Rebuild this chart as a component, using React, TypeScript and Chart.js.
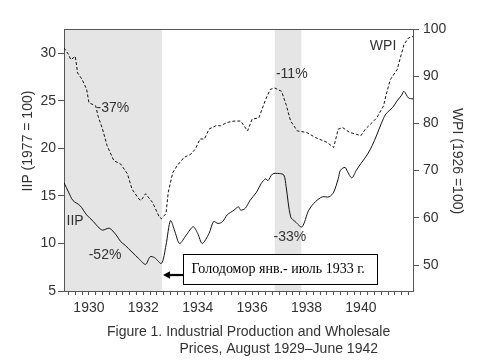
import React, { useEffect, useRef } from 'react';
import { Chart, registerables } from 'chart.js';

Chart.register(...registerables);

// Months counted from August 1929 (0) to June 1942 (154)
const iipMonths = [0,2,4,7,10,13,15,17,20,23,25,27,30,33,36,38,40,43,45,47,49,51,54,57,59,61,64,66,68,70,72,75,77,78,80,82,85,87,89,90,92,95,97,98,100,102,105,108,111,114,117,119,121,122,124,125,127,129,131,134,136,138,140,142,145,147,149,150,152,154];
const iipValues = [16.4,15.4,14.5,14.0,13.0,12.3,11.75,11.4,11.6,10.9,10.2,9.8,9.1,8.4,7.8,8.6,8.5,7.9,9.8,12.4,11.2,10.0,10.9,11.75,11.05,10.0,11.05,12.3,12.1,12.3,13.0,13.5,13.85,13.5,13.7,14.5,15.4,16.3,16.8,16.6,17.3,17.35,17.2,16.0,12.8,12.3,11.75,13.5,14.4,14.9,14.9,15.4,16.8,17.7,18.0,17.6,16.9,17.7,18.4,19.4,20.3,21.4,22.6,23.6,24.3,25.0,25.6,26.0,25.3,25.2];

const wpiMonths = [0,2,3,5,6,8,10,11,14,15,17,19,22,25,28,30,33,34,36,39,40,42,43,45,46,48,50,53,56,58,60,62,64,67,69,72,75,78,81,83,86,89,91,93,96,98,100,103,107,111,116,119,121,123,126,129,131,133,136,138,141,142,144,147,149,150,152,154];
const wpiValues = [96.0,94.6,93.5,94.2,90.7,89.3,87.2,84.4,83.7,81.6,78.8,75.3,72.1,71.4,69.3,66.1,64.0,63.7,65.1,63.3,62.3,60.2,59.8,60.9,65.4,69.6,71.1,72.8,73.5,74.6,76.7,76.7,78.8,79.5,79.5,80.2,80.5,80.5,78.4,80.9,81.2,85.1,87.2,87.5,86.8,84.0,80.5,78.4,78.1,77.0,76.0,74.9,78.8,79.1,78.1,77.7,77.4,78.8,80.2,81.2,83.7,85.8,89.3,91.4,94.9,96.7,98.1,98.4];

const xTickYears = [1930, 1932, 1934, 1936, 1938, 1940];
const iipTicks = [5, 10, 15, 20, 25, 30];
const wpiTicks = [50, 60, 70, 80, 90, 100];
const shadedStarts = [0, 93];
const shadedEnds = [43.2, 104.7];

const annTexts = ['-37%', '-52%', 'IIP', '-11%', '-33%', 'WPI'];
const annMonths = [21.6, 18.1, 4.9, 100.5, 99.7, 140.8];
const annIip = [24.2, 8.8, 12.3, 27.8, 10.7, 30.7];

const boxText = 'Голодомор янв.- июль 1933 г.';
const captionLine1 = 'Figure 1. Industrial Production and Wholesale';
const captionLine2 = 'Prices, August 1929\u2013June 1942';
const leftTitle = 'IIP (1977 = 100)';
const rightTitle = 'WPI (1926 =100)';

const monthOfJuly = (y: number) => (y - 1929) * 12 - 1;
const quarterTicks: number[] = [];
for (let m = 2; m <= 154; m += 3) quarterTicks.push(m);

const SANS = "'Liberation Sans', Arial, sans-serif";
const TEXT = '#333';
const AXIS = '#555';

const decor = {
  id: 'decor',
  beforeDraw(chart: any) {
    const { ctx, chartArea, scales } = chart;
    const x = scales.x;
    ctx.save();
    ctx.fillStyle = '#e5e5e5';
    shadedStarts.forEach((s, k) => {
      const x1 = x.getPixelForValue(s);
      const x2 = x.getPixelForValue(shadedEnds[k]);
      ctx.fillRect(x1, chartArea.top, x2 - x1, chartArea.bottom - chartArea.top);
    });
    ctx.restore();
  },
  afterDraw(chart: any) {
    const { ctx, chartArea, scales } = chart;
    const x = scales.x;
    const y = scales.y;
    ctx.save();
    // frame
    ctx.strokeStyle = AXIS;
    ctx.lineWidth = 1;
    ctx.beginPath();
    ctx.moveTo(chartArea.left, chartArea.top + 0.5);
    ctx.lineTo(chartArea.right, chartArea.top + 0.5);
    ctx.stroke();

    // annotations
    ctx.fillStyle = TEXT;
    ctx.font = `14px ${SANS}`;
    ctx.textAlign = 'center';
    ctx.textBaseline = 'middle';
    annTexts.forEach((t, k) => {
      ctx.fillText(t, x.getPixelForValue(annMonths[k]), y.getPixelForValue(annIip[k]));
    });

    // box with arrow
    const bl = Math.round(x.getPixelForValue(52.6)) + 0.5;
    const br = Math.round(x.getPixelForValue(138)) + 0.5;
    const bt = Math.round(y.getPixelForValue(8.86)) + 0.5;
    const bb = Math.round(y.getPixelForValue(5.74)) + 0.5;
    ctx.fillStyle = '#fff';
    ctx.fillRect(bl, bt, br - bl, bb - bt);
    ctx.strokeStyle = '#000';
    ctx.lineWidth = 1;
    ctx.strokeRect(bl, bt, br - bl, bb - bt);
    ctx.fillStyle = '#000';
    ctx.font = "14px 'Liberation Serif', 'Times New Roman', serif";
    ctx.textAlign = 'left';
    ctx.fillText(boxText, bl + 8, (bt + bb) / 2);

    const tipX = x.getPixelForValue(43.7);
    const tipY = y.getPixelForValue(6.68);
    ctx.lineWidth = 2.2;
    ctx.beginPath();
    ctx.moveTo(bl, tipY);
    ctx.lineTo(tipX + 5, tipY);
    ctx.stroke();
    ctx.beginPath();
    ctx.moveTo(tipX, tipY);
    ctx.lineTo(tipX + 7, tipY - 3.8);
    ctx.lineTo(tipX + 7, tipY + 3.8);
    ctx.closePath();
    ctx.fill();

    // axis titles
    ctx.fillStyle = TEXT;
    ctx.font = `14px ${SANS}`;
    ctx.textAlign = 'center';
    ctx.save();
    ctx.translate(28, 141);
    ctx.rotate(-Math.PI / 2);
    ctx.fillText(leftTitle, 0, 0);
    ctx.restore();
    ctx.save();
    ctx.translate(457, 161);
    ctx.rotate(Math.PI / 2);
    ctx.fillText(rightTitle, 0, 0);
    ctx.restore();

    // caption
    ctx.font = `14px ${SANS}`;
    ctx.textAlign = 'left';
    ctx.fillText(captionLine1, 107, 332);
    ctx.textAlign = 'right';
    ctx.fillText(captionLine2, 378, 349);
    ctx.restore();
  },
};

export default function App() {
  const ref = useRef<HTMLCanvasElement>(null);
  useEffect(() => {
    if (!ref.current) return;
    Chart.defaults.font.family = SANS;
    const chart = new Chart(ref.current, {
      type: 'line',
      data: {
        datasets: [
          {
            label: 'IIP',
            data: iipMonths.map((m, k) => ({ x: m, y: iipValues[k] })),
            borderColor: '#111',
            borderWidth: 1,
            pointRadius: 0,
            tension: 0.3,
            yAxisID: 'y',
          },
          {
            label: 'WPI',
            data: wpiMonths.map((m, k) => ({ x: m, y: wpiValues[k] })),
            borderColor: '#111',
            borderWidth: 1,
            borderDash: [3, 2],
            pointRadius: 0,
            tension: 0,
            yAxisID: 'y2',
          },
        ],
      },
      options: {
        responsive: false,
        animation: false,
        layout: { padding: { top: 29, left: 0, right: 0, bottom: 0 } },
        plugins: { legend: { display: false }, tooltip: { enabled: false }, title: { display: false } },
        scales: {
          x: {
            type: 'linear',
            min: 0,
            max: 154,
            afterBuildTicks: (s: any) => {
              s.ticks = quarterTicks.map((v) => ({ value: v }));
            },
            afterFit: (s: any) => {
              s.height = 72;
            },
            grid: { drawOnChartArea: false, drawTicks: true, tickLength: 4, color: AXIS },
            border: { display: true, color: AXIS },
            ticks: {
              autoSkip: false,
              maxRotation: 0,
              padding: 5,
              color: TEXT,
              font: { size: 14 },
              callback: (v: any) => {
                const yr = xTickYears.find((y) => monthOfJuly(y) === v);
                return yr ? String(yr) : '';
              },
            },
          },
          y: {
            position: 'left',
            min: 5,
            max: 32.55,
            afterBuildTicks: (s: any) => {
              s.ticks = iipTicks.map((v) => ({ value: v }));
            },
            afterFit: (s: any) => {
              s.width = 64;
            },
            grid: { drawOnChartArea: false, drawTicks: true, tickLength: 6, color: AXIS },
            border: { display: true, color: AXIS },
            ticks: { padding: 2, color: TEXT, font: { size: 14 } },
          },
          y2: {
            position: 'right',
            min: 44.5,
            max: 100,
            afterBuildTicks: (s: any) => {
              s.ticks = wpiTicks.map((v) => ({ value: v }));
            },
            afterFit: (s: any) => {
              s.width = 64;
            },
            grid: { drawOnChartArea: false, drawTicks: true, tickLength: 6, color: AXIS },
            border: { display: true, color: AXIS },
            ticks: { padding: 4, color: TEXT, font: { size: 14 } },
          },
        },
      } as any,
      plugins: [decor],
    });
    return () => chart.destroy();
  }, []);
  return (
    <div style={{ position: 'fixed', left: 0, top: 0, width: 477, height: 363, background: '#fff' }}>
      <canvas ref={ref} width={477} height={363} style={{ display: 'block' }} />
    </div>
  );
}
